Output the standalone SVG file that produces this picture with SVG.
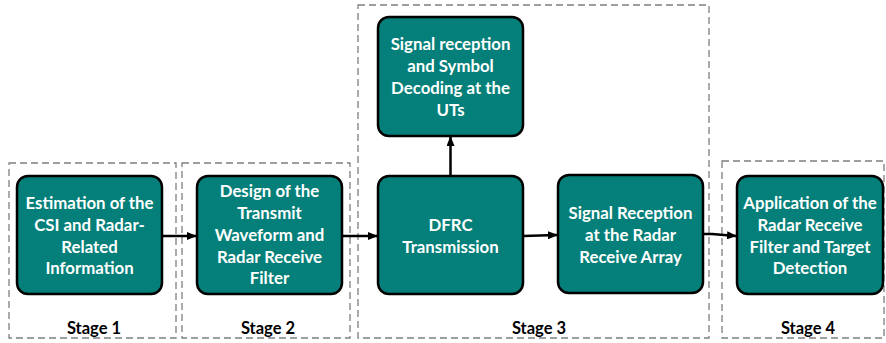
<svg xmlns="http://www.w3.org/2000/svg" width="886" height="343" viewBox="0 0 886 343">
<style>
.stage{fill:none;stroke:#7f7f7f;stroke-width:1.3;stroke-dasharray:7 4}
.node{fill:#057f79;stroke:#000;stroke-width:2.5}
.t{font-family:Lato,"Open Sans",sans-serif;font-weight:bold;font-size:16.8px;fill:#fff;text-anchor:middle}
.s{font-family:Lato,"Open Sans",sans-serif;font-weight:bold;font-size:16.5px;fill:#000;text-anchor:middle}
.c{fill:none;stroke:#000;stroke-width:2.5}
</style>
<defs>
<marker id="ah" markerWidth="10" markerHeight="8" refX="9" refY="4" orient="auto" markerUnits="userSpaceOnUse">
<path d="M0,0 L10,4 L0,8 Z" fill="#000"/>
</marker>
</defs>
<g id="stages">
<rect class="stage" x="9" y="163" width="167" height="175"/>
<rect class="stage" x="182" y="163" width="168" height="175"/>
<rect class="stage" x="358" y="5" width="351" height="333"/>
<rect class="stage" x="722" y="161" width="162" height="177"/>
<text class="s" x="94" y="334">Stage 1</text>
<text class="s" x="268" y="334">Stage 2</text>
<text class="s" x="539" y="334">Stage 3</text>
<text class="s" x="808" y="334">Stage 4</text>
</g>
<g id="n1">
<rect class="node" x="17" y="176" width="145" height="118" rx="11"/>
<text class="t" x="89.5" y="209">Estimation of the</text>
<text class="t" x="89.5" y="231">CSI and Radar-</text>
<text class="t" x="89.5" y="253">Related</text>
<text class="t" x="89.5" y="274">Information</text>
</g>
<g id="n2">
<rect class="node" x="197" y="176" width="145" height="118" rx="11"/>
<text class="t" x="269.5" y="197">Design of the</text>
<text class="t" x="269.5" y="219">Transmit</text>
<text class="t" x="269.5" y="241">Waveform and</text>
<text class="t" x="269.5" y="263">Radar Receive</text>
<text class="t" x="269.5" y="284">Filter</text>
</g>
<g id="n3">
<rect class="node" x="378" y="176" width="145" height="118" rx="11"/>
<text class="t" x="450.5" y="231">DFRC</text>
<text class="t" x="450.5" y="253">Transmission</text>
</g>
<g id="n4">
<rect class="node" x="378" y="17" width="145" height="119" rx="11"/>
<text class="t" x="450.5" y="50">Signal reception</text>
<text class="t" x="450.5" y="72">and Symbol</text>
<text class="t" x="450.5" y="94">Decoding at the</text>
<text class="t" x="450.5" y="116">UTs</text>
</g>
<g id="n5">
<rect class="node" x="558" y="175" width="145" height="118" rx="11"/>
<text class="t" x="630.5" y="219">Signal Reception</text>
<text class="t" x="630.5" y="241">at the Radar</text>
<text class="t" x="630.5" y="263">Receive Array</text>
</g>
<g id="n6">
<rect class="node" x="737" y="176" width="146" height="118" rx="11"/>
<text class="t" x="810" y="209">Application of the</text>
<text class="t" x="810" y="231">Radar Receive</text>
<text class="t" x="810" y="253">Filter and Target</text>
<text class="t" x="810" y="274">Detection</text>
</g>
<g id="connectors">
<path class="c" d="M162,236 L196,236" marker-end="url(#ah)"/>
<path class="c" d="M342,236 L377,236" marker-end="url(#ah)"/>
<path class="c" d="M523,236 L557,235" marker-end="url(#ah)"/>
<path class="c" d="M703,234 L712,234 L736,236" marker-end="url(#ah)"/>
<path class="c" d="M450.5,176 L450.5,137" marker-end="url(#ah)"/>
</g>
</svg>
